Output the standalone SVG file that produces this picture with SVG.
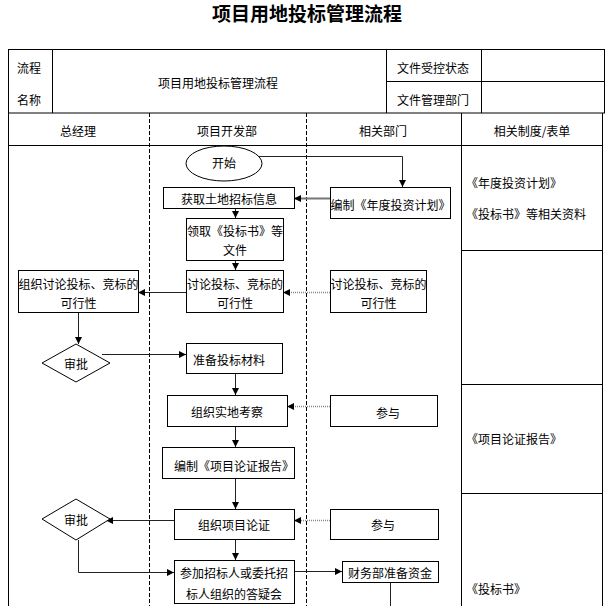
<svg xmlns="http://www.w3.org/2000/svg" width="613" height="606" viewBox="0 0 613 606">
<defs>
<style>
text{font-family:"Noto Sans CJK SC","Liberation Sans",sans-serif;font-size:12px;fill:#000;dominant-baseline:central}
.c{text-anchor:middle}
.s{text-anchor:start}
.title{font-size:19px;font-weight:bold;text-anchor:middle}
.tb{fill:none;stroke:#000;stroke-width:1}
.dash{fill:none;stroke:#000;stroke-width:1;stroke-dasharray:4,2}
.box{fill:#fff;stroke:#000;stroke-width:1}
.ln{fill:none;stroke:#222;stroke-width:1}
.gl{fill:none;stroke:#777;stroke-width:2}
.dl{fill:none;stroke:#888;stroke-width:1.5;stroke-dasharray:1,1}
</style>
<marker id="ar" markerWidth="7" markerHeight="7" refX="7" refY="3.5" orient="auto" markerUnits="userSpaceOnUse">
<path d="M0,0 L7,3.5 L0,7 z" fill="#000"/>
</marker>
</defs>
<rect width="613" height="606" fill="#fff"/>
<text class="title" x="307" y="12">项目用地投标管理流程</text>
<g id="table">
<rect class="tb" x="8.5" y="49.5" width="596" height="63.5"/>
<path class="tb" d="M52.5,49.5 V113 M386.5,49.5 V113 M481.5,49.5 V113 M386.5,81.5 H604.5"/>
<path class="tb" d="M8.5,113 V606 M461.5,113 V606 M602.5,113 V606 M8.5,145.5 H602.5"/>
<path class="dash" d="M149.5,113 V606 M306.5,113 V606"/>
<path class="tb" d="M461.5,250.5 H602.5 M461.5,384.5 H602.5 M461.5,493.5 H602.5"/>
<text class="c" x="29" y="67">流程</text>
<text class="c" x="29" y="99">名称</text>
<text class="c" x="218" y="82">项目用地投标管理流程</text>
<text class="c" x="433" y="67">文件受控状态</text>
<text class="c" x="433" y="99">文件管理部门</text>
<text class="c" x="78" y="130">总经理</text>
<text class="c" x="227" y="130">项目开发部</text>
<text class="c" x="383" y="130">相关部门</text>
<text class="c" x="532" y="130">相关制度/表单</text>
<text class="s" x="466" y="182">《年度投资计划》</text>
<text class="s" x="466" y="213">《投标书》等相关资料</text>
<text class="s" x="466" y="438">《项目论证报告》</text>
<text class="s" x="466" y="588">《投标书》</text>
</g>
<g id="connectors">
<path class="ln" d="M258,156.5 H402.5 V187" marker-end="url(#ar)"/>
<path class="gl" d="M330,198.5 H294" marker-end="url(#ar)"/>
<path class="ln" d="M235.5,208 V218" marker-end="url(#ar)"/>
<path class="ln" d="M235.5,260 V270" marker-end="url(#ar)"/>
<path class="ln" d="M186,292.5 H138" marker-end="url(#ar)"/>
<path class="dl" d="M330,292.5 H283" marker-end="url(#ar)"/>
<path class="ln" d="M78.5,312 V344" marker-end="url(#ar)"/>
<path class="ln" d="M102,354.5 H186" marker-end="url(#ar)"/>
<path class="ln" d="M235.5,373 V395" marker-end="url(#ar)"/>
<path class="dl" d="M330,406.5 H287" marker-end="url(#ar)"/>
<path class="ln" d="M235.5,426 V447" marker-end="url(#ar)"/>
<path class="ln" d="M235.5,478 V509" marker-end="url(#ar)"/>
<path class="dl" d="M330,520.5 H294" marker-end="url(#ar)"/>
<path class="ln" d="M174,520.5 H106" marker-end="url(#ar)"/>
<path class="ln" d="M235.5,539 V560" marker-end="url(#ar)"/>
<path class="ln" d="M78.5,540 V572.5 H174" marker-end="url(#ar)"/>
<path class="ln" d="M294,571.5 H342" marker-end="url(#ar)"/>
<path class="ln" d="M390.5,582 V606"/>
</g>
<g id="n-start"><ellipse class="box" cx="224" cy="163.5" rx="38" ry="17.5"/><text class="c" x="224" y="162">开始</text></g>
<g id="n-obtain"><rect class="box" x="163.5" y="187.5" width="131" height="21"/><text class="c" x="229" y="198">获取土地招标信息</text></g>
<g id="n-plan"><rect class="box" x="330.5" y="187.5" width="120" height="31"/><text class="c" x="390.5" y="204">编制《年度投资计划》</text></g>
<g id="n-collect"><rect class="box" x="186.5" y="218.5" width="97" height="42"/><text class="c" x="235" y="230">领取《投标书》等</text><text class="c" x="235" y="249">文件</text></g>
<g id="n-discuss"><rect class="box" x="186.5" y="270.5" width="97" height="42"/><text class="c" x="235" y="283">讨论投标、竞标的</text><text class="c" x="235" y="302">可行性</text></g>
<g id="n-discuss-rel"><rect class="box" x="330.5" y="270.5" width="96" height="42"/><text class="c" x="378.5" y="283">讨论投标、竞标的</text><text class="c" x="378.5" y="302">可行性</text></g>
<g id="n-gm-discuss"><rect class="box" x="18.5" y="270.5" width="120" height="42"/><text class="c" x="78.5" y="283">组织讨论投标、竞标的</text><text class="c" x="78.5" y="302">可行性</text></g>
<g id="n-approve1"><polygon class="box" points="76,344 110,363 76,382 42,363"/><text class="c" x="76" y="363">审批</text></g>
<g id="n-prepare"><rect class="box" x="186.5" y="343.5" width="96" height="30"/><text class="s" x="193" y="359">准备投标材料</text></g>
<g id="n-survey"><rect class="box" x="167.5" y="395.5" width="120" height="31"/><text class="c" x="227" y="411">组织实地考察</text></g>
<g id="n-join1"><rect class="box" x="330.5" y="395.5" width="107" height="31"/><text class="c" x="388" y="412">参与</text></g>
<g id="n-report"><rect class="box" x="162.5" y="447.5" width="132" height="31"/><text class="s" x="174" y="465">编制《项目论证报告》</text></g>
<g id="n-argue"><rect class="box" x="174.5" y="509.5" width="120" height="30"/><text class="c" x="234" y="524">组织项目论证</text></g>
<g id="n-join2"><rect class="box" x="330.5" y="509.5" width="108" height="30"/><text class="c" x="383" y="524">参与</text></g>
<g id="n-approve2"><polygon class="box" points="76,499 110,519 76,540 42,519"/><text class="c" x="76" y="519">审批</text></g>
<g id="n-meeting"><rect class="box" x="174.5" y="560.5" width="120" height="43"/><text class="c" x="234" y="572">参加招标人或委托招</text><text class="c" x="234" y="593">标人组织的答疑会</text></g>
<g id="n-finance"><rect class="box" x="342.5" y="561.5" width="96" height="21"/><text class="c" x="390" y="572">财务部准备资金</text></g>
</svg>
